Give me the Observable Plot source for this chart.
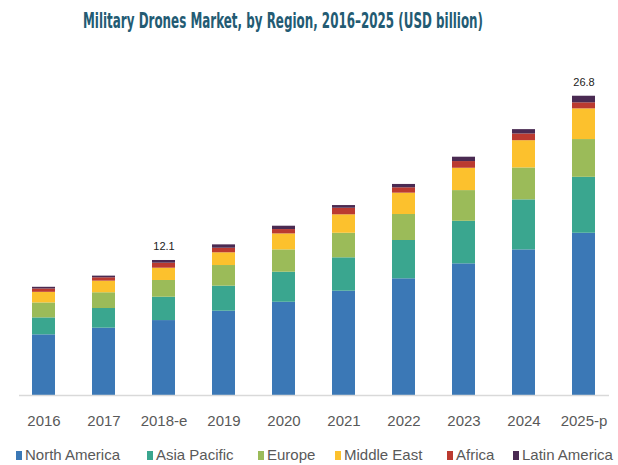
<!DOCTYPE html>
<html>
<head>
<meta charset="utf-8">
<script src="https://cdn.jsdelivr.net/npm/d3@7"></script>
<script src="https://cdn.jsdelivr.net/npm/@observablehq/plot@0.6"></script>
<style>
  html, body { margin: 0; padding: 0; background: #fff; }
  #wrap { position: relative; width: 618px; height: 465px; overflow: hidden; }
  #title { position: absolute; left: 83px; top: 9px; white-space: nowrap;
    font-family: "Liberation Sans Narrow", "DejaVu Sans Condensed", "Liberation Sans", sans-serif;
    font-stretch: condensed; font-weight: bold; font-size: 22px; line-height: 24px; color: #235b73;
    transform-origin: 0 0; }
  #chart { position: absolute; left: 0; top: 0; }
  .leg { position: absolute; top: 446px; white-space: nowrap; display: flex; align-items: center;
    font-family: "Liberation Sans", Arial, sans-serif; font-size: 15px; color: #595959; line-height: 18px; }
  .leg span.sw { display: inline-block; width: 6px; height: 9px; margin-right: 3px; }
</style>
</head>
<body>
<div id="wrap">
  <div id="chart"></div>
  <div id="title">Military Drones Market, by Region, 2016–2025 (USD billion)</div>
</div>
<script>
const years = ["2016","2017","2018-e","2019","2020","2021","2022","2023","2024","2025-p"];
const regions = ["North America","Asia Pacific","Europe","Middle East","Africa","Latin America"];
const colors = ["#3b78b6","#3aa68f","#9bbb59","#fcc12d","#bb3a30","#4a2a52"];

const northAmerica = [5.43, 6.03, 6.71, 7.55, 8.35, 9.34, 10.45, 11.79, 13.04, 14.53];
const asiaPacific  = [1.52, 1.76, 2.09, 2.24, 2.69, 2.99, 3.43, 3.81, 4.48, 5.01];
const europe       = [1.34, 1.41, 1.50, 1.85, 2.00, 2.20, 2.33, 2.75, 2.86, 3.38];
const middleEast   = [0.95, 1.04, 1.10, 1.14, 1.43, 1.65, 1.91, 2.00, 2.44, 2.75];
const africa       = [0.30, 0.30, 0.45, 0.41, 0.39, 0.59, 0.48, 0.60, 0.60, 0.54];
const latinAmerica = [0.15, 0.15, 0.24, 0.30, 0.30, 0.24, 0.30, 0.39, 0.39, 0.59];

const labelYears  = ["2018-e", "2025-p"];
const labelValues = [12.1, 26.8];

const series = [northAmerica, asiaPacific, europe, middleEast, africa, latinAmerica];
const data = [];
regions.forEach((r, i) => years.forEach((y, j) => data.push({year: y, region: r, value: series[i][j]})));
const labels = labelYears.map((y, i) => ({year: y, value: labelValues[i]}));

const chart = Plot.plot({
  width: 618,
  height: 440,
  marginLeft: 19,
  marginRight: 9,
  marginTop: 60,
  marginBottom: 45,
  x: {domain: years, paddingInner: 0.61, paddingOuter: 0.2, label: null},
  y: {domain: [0, 30], axis: null},
  color: {domain: regions, range: colors},
  style: {fontFamily: "Liberation Sans, Arial, sans-serif", background: "#fff"},
  marks: [
    Plot.barY(data, {x: "year", y: "value", fill: "region"}),
    Plot.ruleY([0], {stroke: "#d9d9d9", strokeWidth: 1.5}),
    Plot.axisX({tickSize: 0, tickPadding: 20, fontSize: 15, fill: "#595959", style: {letterSpacing: "0.8px"}}),
    Plot.text(labels, {x: "year", y: "value", text: d => d.value.toFixed(1), dy: -14, fontSize: 11, fill: "#222"})
  ]
});
document.getElementById("chart").appendChild(chart);

// title: compress to measured width
const t = document.getElementById("title");
const w = t.getBoundingClientRect().width;
t.style.transform = `scaleX(${400 / w})`;

// legend
const legX = [16, 147, 258, 335, 447, 513];
const wrap = document.getElementById("wrap");
regions.forEach((r, i) => {
  const d = document.createElement("div");
  d.className = "leg";
  d.style.left = legX[i] + "px";
  const sw = document.createElement("span");
  sw.className = "sw";
  sw.style.background = colors[i];
  d.appendChild(sw);
  d.appendChild(document.createTextNode(r));
  wrap.appendChild(d);
});
</script>
</body>
</html>
